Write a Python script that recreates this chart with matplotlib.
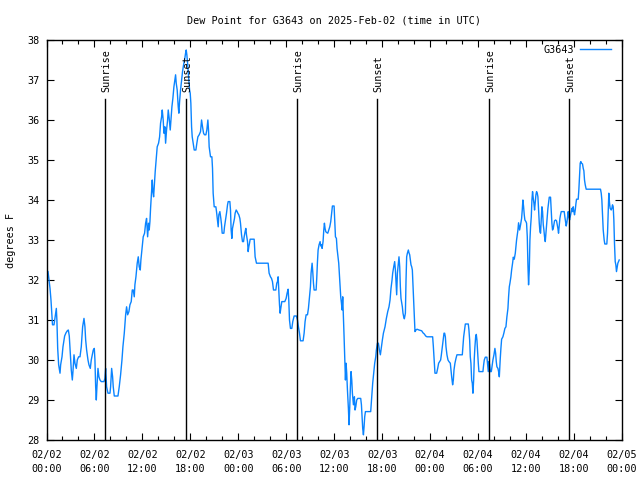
import matplotlib
matplotlib.use("Agg")
import matplotlib.pyplot as plt
from matplotlib.ticker import MultipleLocator

# hours since 2025-02-02 00:00 UTC
hours = [
    0.19, 0.31, 0.44, 0.56, 0.69, 0.75, 0.94, 1.15, 1.23, 1.3, 1.4, 1.52, 1.69, 1.77, 1.94, 2.06, 2.19, 2.27,
    2.44, 2.6, 2.73, 2.85, 2.94, 3.1, 3.23, 3.31, 3.44, 3.56, 3.73, 3.85, 4.02, 4.19, 4.35, 4.52, 4.69, 4.81,
    4.9, 5.02, 5.19, 5.31, 5.48, 5.6, 5.73, 5.85, 5.98, 6.06, 6.15, 6.23, 6.31, 6.44, 6.56, 6.69, 6.85, 7.19,
    7.31, 7.4, 7.52, 7.69, 7.94, 8.02, 8.15, 8.27, 8.35, 8.48, 8.94, 9.1, 9.27, 9.44, 9.56, 9.73, 9.9, 10.02,
    10.15, 10.31, 10.44, 10.6, 10.73, 10.85, 10.98, 11.06, 11.19, 11.35, 11.48, 11.6, 11.73, 11.81, 11.94,
    12.1, 12.27, 12.4, 12.52, 12.65, 12.77, 12.85, 12.94, 13.02, 13.15, 13.23, 13.31, 13.4, 13.48, 13.6, 13.73,
    13.85, 14.02, 14.15, 14.27, 14.4, 14.48, 14.6, 14.69, 14.81, 14.9, 15.02, 15.15, 15.23, 15.35, 15.48, 15.6,
    15.69, 15.81, 15.94, 16.06, 16.15, 16.23, 16.35, 16.48, 16.56, 16.65, 16.77, 16.9, 17.02, 17.15, 17.27,
    17.4, 17.48, 17.56, 17.65, 17.77, 17.9, 17.98, 18.06, 18.15, 18.23, 18.35, 18.48, 18.69, 18.81, 18.94,
    19.1, 19.27, 19.4, 19.52, 19.65, 19.77, 19.94, 20.06, 20.19, 20.27, 20.35,
    20.52, 20.69, 20.77, 20.85, 20.98, 21.19, 21.27, 21.4, 21.48, 21.56, 21.69, 21.81, 21.9, 21.98, 22.19,
    22.27, 22.4, 22.52, 22.65, 22.73, 22.94, 23.02, 23.1, 23.19, 23.27, 23.4, 23.52, 23.6, 23.73, 23.85, 23.94,
    24.06, 24.19, 24.27, 24.4, 24.52, 24.65, 24.73, 24.85, 24.94, 25.02, 25.15, 25.23, 25.31, 25.4, 25.48,
    25.98, 26.1, 26.27, 27.73, 27.85, 28.02, 28.15, 28.27, 28.4, 28.69, 28.81, 28.9, 28.98, 29.06, 29.15,
    29.23, 29.31, 29.44, 29.81, 29.98, 30.1, 30.23, 30.31, 30.4, 30.52, 30.69, 30.81, 30.98, 31.27, 31.4,
    31.52, 31.65, 31.77, 32.1, 32.23, 32.35, 32.48, 32.65, 32.77, 32.9,
    33.02, 33.1, 33.23, 33.31, 33.4, 33.48, 33.73, 33.81, 33.9, 33.98, 34.1, 34.23, 34.31, 34.4, 34.48, 34.6,
    34.69, 34.77, 34.85, 34.94, 35.02, 35.19, 35.31, 35.44, 35.56, 35.69, 35.77, 35.98, 36.06, 36.15, 36.27,
    36.35, 36.56, 36.69, 36.81, 36.9, 36.98, 37.06, 37.15, 37.23, 37.31, 37.4, 37.48, 37.56, 37.65, 37.77,
    37.85, 37.94, 38.02, 38.1, 38.19, 38.27, 38.4, 38.52, 38.6, 38.69, 38.81, 38.94, 39.31, 39.4, 39.48,
    39.56, 39.65, 39.73, 39.81, 39.9, 40.56, 40.69, 40.81, 40.94, 41.06, 41.19, 41.27, 41.4, 41.52, 41.65,
    41.77, 41.9, 42.02, 42.15, 42.35, 42.52, 42.69, 42.85, 42.98, 43.1, 43.23, 43.31, 43.44, 43.56, 43.65,
    43.73, 43.81, 43.9, 43.98, 44.1,
    44.19, 44.27, 44.35, 44.44, 44.52, 44.6, 44.69, 44.77, 44.9, 44.98, 45.06, 45.15, 45.27, 45.35, 45.44,
    45.52, 45.6, 45.69, 45.77, 45.85, 45.94, 46.02, 46.1, 46.23, 46.35, 46.6, 46.94, 47.1, 47.27, 47.44, 47.6,
    48.31, 48.4, 48.52, 48.6, 48.81, 48.94, 49.06, 49.19, 49.31, 49.4, 49.52, 49.65, 49.73, 49.81, 49.9,
    49.98, 50.1, 50.23, 50.35, 50.52, 50.6, 50.69, 50.81, 50.9, 50.98, 51.1, 51.23, 51.35, 52.02, 52.1, 52.19,
    52.27, 52.4, 52.77, 52.85, 52.94, 53.02, 53.1, 53.19, 53.27, 53.35, 53.44, 53.52, 53.6, 53.69, 53.77,
    53.85, 53.94, 54.02, 54.1, 54.6, 54.69, 54.77, 54.9, 55.1, 55.19, 55.27, 55.35, 55.44, 55.52, 55.65,
    55.73, 55.85, 55.98, 56.1, 56.19, 56.27, 56.35, 56.48, 56.56, 56.65,
    56.69, 56.77, 56.85, 56.94, 57.1, 57.23, 57.35, 57.48, 57.6, 57.73, 57.81, 57.9, 57.98, 58.1, 58.19,
    58.31, 58.4, 58.52, 58.65, 58.73, 58.81, 58.9, 58.98, 59.06, 59.19, 59.31, 59.44, 59.52, 59.6, 59.69,
    59.77, 59.85, 59.98, 60.06, 60.15, 60.23, 60.31, 60.4, 60.48, 60.56, 60.65, 60.73, 60.81, 60.9, 60.98,
    61.06, 61.15, 61.23, 61.31, 61.4, 61.48, 61.56, 61.65, 61.73, 61.81, 61.9, 61.98, 62.06, 62.15, 62.23,
    62.31, 62.4, 62.48, 62.56, 62.65, 62.73, 62.81, 62.9, 63.06, 63.15, 63.23, 63.31, 63.4, 63.48, 63.56,
    63.69, 63.81, 63.9, 63.98, 64.06, 64.15, 64.23, 64.31, 64.4, 64.77, 64.85, 64.94, 65.02, 65.1, 65.19,
    65.27, 65.35, 65.44, 65.52, 65.65, 65.73, 65.81, 65.9, 65.98, 66.06, 66.15, 66.23, 66.31, 66.52, 66.6,
    66.69, 66.77, 66.85, 66.94, 67.06, 67.15, 67.23, 67.31, 67.4, 67.52, 69.31, 69.4, 69.48, 69.56, 69.65,
    69.77, 69.85, 70.1, 70.19, 70.27, 70.35, 70.44, 70.52, 70.65, 70.73, 70.81, 70.9, 70.98, 71.06, 71.15,
    71.23, 71.31, 71.4, 71.48, 71.56, 71.65,
]

dew_f = [
    32.21, 32.0, 31.79, 31.5, 31.08, 30.88, 30.88, 31.17, 31.29, 31.0, 30.29, 29.88, 29.67, 29.88, 30.08, 30.33, 30.5, 30.6,
    30.68, 30.73, 30.75, 30.6, 30.29, 29.75, 29.5, 29.71, 30.13, 29.92, 29.79, 30.0, 30.08, 30.08, 30.33, 30.83, 31.04, 30.83,
    30.5, 30.25, 30.0, 29.88, 29.79, 30.0, 30.13, 30.25, 30.29, 30.0, 29.33, 29.0, 29.33, 29.79, 29.58, 29.5, 29.46, 29.46,
    29.54, 29.79, 29.33, 29.17, 29.17, 29.33, 29.79, 29.58, 29.33, 29.1, 29.1, 29.33, 29.63, 30.0, 30.33, 30.67, 31.13, 31.33,
    31.13, 31.21, 31.38, 31.46, 31.75, 31.75, 31.58, 31.88, 32.08, 32.42, 32.58, 32.33, 32.25, 32.5, 32.75,
    33.08, 33.17, 33.42, 33.54, 33.08, 33.42, 33.25, 33.46, 33.79, 34.25, 34.5, 34.21, 34.08, 34.33, 34.71, 35.04,
    35.33, 35.42, 35.58, 35.92, 36.08, 36.25, 36.0, 35.67, 35.83, 35.42, 35.75, 36.0, 36.25, 36.04, 35.75, 36.08,
    36.33, 36.54, 36.83, 37.0, 37.13, 36.92, 36.75, 36.33, 36.17, 36.46, 36.75, 37.0, 37.21, 37.38, 37.5,
    37.67, 37.75, 37.63, 37.42, 37.08, 36.75, 36.67, 36.42, 35.83, 35.58, 35.42, 35.25, 35.25, 35.42, 35.58,
    35.63, 35.71, 36.0, 35.83, 35.67, 35.63, 35.63, 35.75, 36.0, 35.75, 35.33,
    35.08, 35.08, 34.79, 34.17, 33.83, 33.83, 33.71, 33.46, 33.33, 33.63, 33.71, 33.54, 33.38, 33.17, 33.17,
    33.33, 33.5, 33.67, 33.88, 33.96, 33.96, 33.75, 33.25, 33.04, 33.29, 33.42, 33.54, 33.67, 33.75, 33.71, 33.67,
    33.63, 33.54, 33.42, 33.13, 32.96, 32.96, 33.08, 33.21, 33.29, 33.13, 32.96, 32.71, 32.83, 32.92, 33.02,
    33.02, 32.58, 32.42, 32.42, 32.17, 32.08, 32.04, 31.96, 31.75, 31.75, 31.92, 31.96, 32.08, 31.75, 31.38,
    31.17, 31.29, 31.46, 31.46, 31.54, 31.67, 31.77, 31.5, 31.0, 30.79, 30.79, 30.96, 31.1, 31.1, 31.0,
    30.83, 30.67, 30.48, 30.48, 30.67, 30.96, 31.13, 31.13, 31.29, 31.58,
    31.83, 32.17, 32.42, 32.21, 31.92, 31.75, 31.75, 32.04, 32.46, 32.75, 32.88, 32.96, 32.85, 32.88, 32.79, 32.96,
    33.25, 33.42, 33.29, 33.21, 33.19, 33.17, 33.25, 33.33, 33.46, 33.71, 33.85, 33.85, 33.46, 33.08, 33.04,
    32.79, 32.42, 31.96, 31.58, 31.42, 31.25, 31.58, 31.08, 30.58, 30.04, 29.5, 29.92, 29.67, 29.25, 28.79,
    28.38, 28.83, 29.33, 29.71, 29.5, 29.17, 28.88, 29.08, 28.75, 28.83, 29.0, 29.04, 29.04, 28.88, 28.58,
    28.29, 28.13, 28.33, 28.58, 28.71, 28.71, 29.08, 29.42, 29.67, 29.92, 30.08, 30.25, 30.42, 30.42, 30.25,
    30.13, 30.33, 30.5, 30.67, 30.83, 31.04, 31.21, 31.33, 31.5, 31.79, 32.0, 32.17, 32.33, 32.46, 32.25,
    31.92, 31.63, 32.17, 32.33, 32.58,
    32.33, 31.83, 31.54, 31.42, 31.33, 31.17, 31.08, 31.03, 31.17, 32.0, 32.58, 32.67, 32.75, 32.68, 32.63,
    32.5, 32.38, 32.33, 32.25, 31.88, 31.46, 31.08, 30.71, 30.75, 30.77, 30.75, 30.73, 30.68, 30.65, 30.6, 30.58,
    30.58, 30.33, 29.92, 29.67, 29.67, 29.79, 29.92, 29.96, 30.0, 30.13, 30.33, 30.54, 30.67, 30.67, 30.58,
    30.33, 30.13, 30.0, 29.96, 29.92, 29.75, 29.58, 29.38, 29.5, 29.75, 29.92, 30.04, 30.13, 30.13, 30.33, 30.58,
    30.71, 30.9, 30.9, 30.75, 30.5, 30.08, 29.92, 29.5, 29.42, 29.17, 29.5, 30.04, 30.33, 30.58, 30.64,
    30.5, 30.17, 29.92, 29.71, 29.71, 29.88, 30.0, 30.07, 30.07, 29.88, 29.71, 29.96, 29.88, 29.71, 29.71,
    29.83, 30.0, 30.13, 30.29, 30.17, 29.96, 29.83, 29.79, 29.71, 29.58,
    29.75, 30.04, 30.29, 30.52, 30.58, 30.68, 30.79, 30.83, 31.08, 31.29, 31.58, 31.83, 31.92, 32.08, 32.25,
    32.42, 32.57, 32.52, 32.67, 32.85, 33.0, 33.13, 33.25, 33.43, 33.25, 33.38, 33.54, 33.75, 34.0, 33.83,
    33.63, 33.5, 33.46, 33.42, 33.08, 32.38, 31.88, 32.25, 33.0, 33.33, 33.58, 34.0, 34.21, 34.04, 33.92,
    33.75, 33.96, 34.13, 34.21, 34.17, 34.08, 33.75, 33.42, 33.21, 33.17, 33.5, 33.83, 33.71, 33.38, 33.25,
    33.08, 32.96, 33.17, 33.38, 33.58, 33.79, 33.92, 34.07, 34.07, 33.71, 33.42, 33.25, 33.29, 33.38, 33.48,
    33.5, 33.48, 33.38, 33.29, 33.17, 33.38, 33.54, 33.63, 33.71, 33.71, 33.58, 33.46, 33.35, 33.43, 33.58,
    33.71, 33.58, 33.5, 33.58, 33.71, 33.79, 33.71, 33.83, 33.71, 33.63, 33.75, 33.9, 34.02, 34.02, 34.25,
    34.58, 34.92, 34.96, 34.92, 34.9, 34.79, 34.73, 34.5, 34.38, 34.27, 34.27, 34.17, 34.0, 33.63, 33.25,
    33.0, 32.9, 32.9, 33.17, 33.71, 34.17, 33.92, 33.79, 33.75, 33.79, 33.88, 33.83, 33.5, 32.92, 32.46,
    32.38, 32.21, 32.33, 32.42, 32.46, 32.5,
]

sun_hours = [7.35, 17.48, 31.35, 41.35, 55.35, 65.35]
sun_labels = ["Sunrise", "Sunset", "Sunrise", "Sunset", "Sunrise", "Sunset"]

xtick_hours = [0, 6, 12, 18, 24, 30, 36, 42, 48, 54, 60, 66, 72]
xtick_labels = ["02/02\n00:00", "02/02\n06:00", "02/02\n12:00", "02/02\n18:00",
                "02/03\n00:00", "02/03\n06:00", "02/03\n12:00", "02/03\n18:00",
                "02/04\n00:00", "02/04\n06:00", "02/04\n12:00", "02/04\n18:00",
                "02/05\n00:00"]

plt.rcParams['font.family'] = ['DejaVu Sans Mono']
FS = 7.3

fig = plt.figure(figsize=(6.4, 4.8), dpi=100)
ax = fig.add_axes([46.5 / 640, 40 / 480, (622 - 46.5) / 640, 400 / 480])

ax.plot(hours, dew_f, color='#0a84ff', lw=1.0, label='G3643')

for h, lab in zip(sun_hours, sun_labels):
    ax.plot([h, h], [28, 36.53], color='black', lw=1.0)
    ax.text(h + 0.15, 36.7, lab, rotation=90, ha='center', va='bottom', fontsize=FS)

ax.set_xlim(0, 72)
ax.set_ylim(28, 38)
ax.set_xticks(xtick_hours)
ax.set_xticklabels(xtick_labels, fontsize=FS, linespacing=1.55)
ax.xaxis.set_minor_locator(MultipleLocator(2))
ax.yaxis.set_major_locator(MultipleLocator(1))
ax.tick_params(axis='y', labelsize=FS)
ax.tick_params(which='both', direction='in', top=True, right=True, width=0.8)
ax.tick_params(which='major', length=5)
ax.tick_params(which='minor', length=3)
ax.tick_params(axis='x', pad=7)
ax.tick_params(axis='y', pad=5)
for sp in ax.spines.values():
    sp.set_linewidth(1.0)

ax.set_ylabel('degrees F', fontsize=FS, labelpad=8)
ax.set_title('Dew Point for G3643 on 2025-Feb-02 (time in UTC)', fontsize=FS, pad=12)

leg = ax.legend(loc='upper right', frameon=False, markerfirst=False, fontsize=FS,
                handlelength=3.0, handletextpad=0.6, borderaxespad=0.3,
                bbox_to_anchor=(0.993, 1.006))

fig.savefig('out.png', dpi=100)
